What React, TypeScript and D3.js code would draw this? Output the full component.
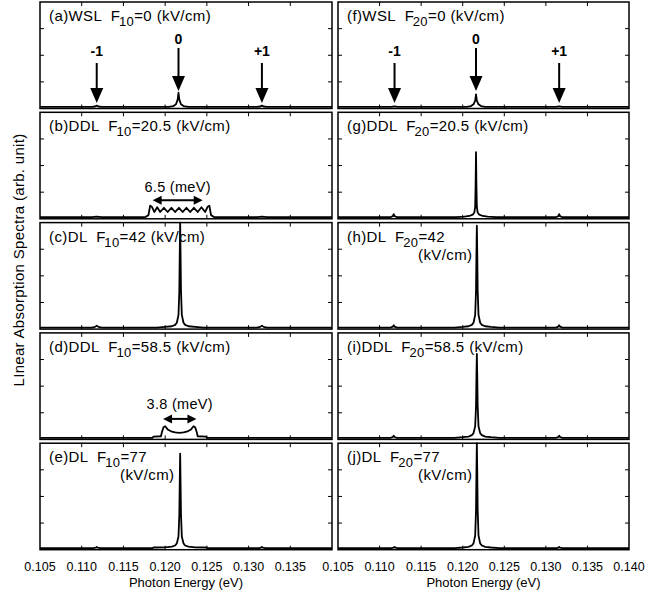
import React from 'react';
import * as d3 from 'd3';

// x axis (photon energy, eV) and y ticks (arb. unit, fraction of panel)
const xTicks = [0.105, 0.11, 0.115, 0.12, 0.125, 0.13, 0.135, 0.14];
const yTicks = [0.25, 0.5, 0.75];

// WSL ladder positions (eV) for the arrows in (a) and (f)
const wslLabels = ['-1', '0', '+1'];
const wslEnergy = [0.1118, 0.1216, 0.1316];

// spectra, [energy (eV), absorption (arb.)]
const specA: [number, number][] = [
  [0.105, 0], [0.1112, 0], [0.1116, 0.004], [0.1118, 0.012], [0.112, 0.004], [0.1124, 0],
  [0.1204, 0], [0.121, 0.008], [0.1213, 0.025], [0.1215, 0.07], [0.1216, 0.135], [0.1217, 0.07],
  [0.1219, 0.025], [0.1222, 0.008], [0.1228, 0],
  [0.131, 0], [0.1314, 0.004], [0.1316, 0.012], [0.1318, 0.004], [0.1322, 0], [0.14, 0],
];
const specB: [number, number][] = [
  [0.105, 0], [0.1112, 0], [0.1118, 0.006], [0.1124, 0], [0.1176, 0], [0.118, 0.02],
  [0.1182, 0.11], [0.1184, 0.1], [0.1187, 0.05], [0.11905, 0.095], [0.1194, 0.05],
  [0.11985, 0.09], [0.1203, 0.05], [0.12075, 0.09], [0.1212, 0.05], [0.12165, 0.09],
  [0.1221, 0.05], [0.12255, 0.09], [0.123, 0.05], [0.12345, 0.09], [0.1239, 0.05],
  [0.12435, 0.095], [0.1248, 0.05], [0.1251, 0.1], [0.1253, 0.11], [0.1255, 0.02],
  [0.1259, 0], [0.131, 0], [0.1316, 0.006], [0.1322, 0], [0.14, 0],
];
const specC: [number, number][] = [
  [0.105, 0], [0.1112, 0], [0.1116, 0.006], [0.1118, 0.018], [0.112, 0.006], [0.1124, 0],
  [0.119, 0], [0.12, 0.006], [0.1208, 0.012], [0.1212, 0.025], [0.1214, 0.045], [0.1216, 0.12],
  [0.1217, 0.35], [0.12175, 0.7], [0.1218, 1.0], [0.12185, 0.7], [0.1219, 0.35], [0.122, 0.12],
  [0.1222, 0.045], [0.1224, 0.025], [0.1228, 0.012], [0.1236, 0.006], [0.1246, 0],
  [0.131, 0], [0.1314, 0.006], [0.1316, 0.018], [0.1318, 0.006], [0.1322, 0], [0.14, 0],
];
const specD: [number, number][] = [
  [0.105, 0], [0.1185, 0], [0.1186, 0.012], [0.1195, 0.015], [0.1196, 0.05], [0.1198, 0.1],
  [0.12, 0.11], [0.1203, 0.08], [0.1207, 0.062], [0.1212, 0.052], [0.1217, 0.048],
  [0.1222, 0.052], [0.1227, 0.062], [0.1231, 0.08], [0.1234, 0.11], [0.1236, 0.1],
  [0.1238, 0.05], [0.1239, 0.015], [0.1249, 0.012], [0.125, 0], [0.14, 0],
];
const specE: [number, number][] = [
  [0.105, 0], [0.1114, 0], [0.1117, 0.004], [0.1118, 0.012], [0.1119, 0.004], [0.1122, 0],
  [0.1185, 0], [0.1186, 0.006], [0.12, 0.008], [0.1208, 0.014], [0.1212, 0.025], [0.1214, 0.045],
  [0.1216, 0.11], [0.1217, 0.32], [0.12175, 0.62], [0.1218, 0.9], [0.12185, 0.62], [0.1219, 0.32],
  [0.122, 0.11], [0.1222, 0.045], [0.1224, 0.025], [0.1228, 0.014], [0.1236, 0.008], [0.125, 0.006],
  [0.1251, 0], [0.1313, 0], [0.1315, 0.004], [0.1316, 0.012], [0.1317, 0.004], [0.132, 0], [0.14, 0],
];
const specF: [number, number][] = [
  [0.105, 0], [0.1114, 0], [0.1118, 0.006], [0.1122, 0],
  [0.1205, 0], [0.121, 0.008], [0.1213, 0.025], [0.1215, 0.06], [0.1216, 0.12], [0.1217, 0.06],
  [0.1219, 0.025], [0.1222, 0.008], [0.1227, 0],
  [0.1312, 0], [0.1316, 0.006], [0.132, 0], [0.14, 0],
];
const specG: [number, number][] = [
  [0.105, 0], [0.1113, 0], [0.1116, 0.01], [0.1117, 0.03], [0.1118, 0.01], [0.1121, 0],
  [0.1192, 0], [0.1202, 0.006], [0.1208, 0.012], [0.1212, 0.024], [0.1214, 0.045], [0.1215, 0.1],
  [0.12155, 0.3], [0.1216, 0.62], [0.12165, 0.3], [0.1217, 0.1], [0.1218, 0.045], [0.122, 0.024],
  [0.1224, 0.012], [0.123, 0.006], [0.124, 0],
  [0.1312, 0], [0.1315, 0.01], [0.1316, 0.03], [0.1317, 0.01], [0.132, 0], [0.14, 0],
];
const specH: [number, number][] = [
  [0.105, 0], [0.1113, 0], [0.1116, 0.008], [0.1117, 0.022], [0.1118, 0.008], [0.1121, 0],
  [0.119, 0], [0.12, 0.006], [0.1207, 0.012], [0.1211, 0.025], [0.1213, 0.045], [0.1215, 0.12],
  [0.1216, 0.35], [0.12165, 0.7], [0.1217, 0.97], [0.12175, 0.7], [0.1218, 0.35], [0.1219, 0.12],
  [0.1221, 0.045], [0.1223, 0.025], [0.1227, 0.012], [0.1234, 0.006], [0.1244, 0],
  [0.1312, 0], [0.1315, 0.008], [0.1316, 0.022], [0.1317, 0.008], [0.132, 0], [0.14, 0],
];
const specI: [number, number][] = [
  [0.105, 0], [0.1113, 0], [0.1116, 0.008], [0.1117, 0.02], [0.1118, 0.008], [0.1121, 0],
  [0.119, 0], [0.12, 0.006], [0.1207, 0.012], [0.1211, 0.025], [0.1213, 0.045], [0.1215, 0.11],
  [0.1216, 0.3], [0.12165, 0.58], [0.1217, 0.8], [0.12175, 0.58], [0.1218, 0.3], [0.1219, 0.11],
  [0.1221, 0.045], [0.1223, 0.025], [0.1227, 0.012], [0.1234, 0.006], [0.1244, 0],
  [0.1312, 0], [0.1315, 0.008], [0.1316, 0.02], [0.1317, 0.008], [0.132, 0], [0.14, 0],
];
const specJ: [number, number][] = [
  [0.105, 0], [0.1114, 0], [0.1117, 0.004], [0.1118, 0.012], [0.1119, 0.004], [0.1122, 0],
  [0.119, 0], [0.12, 0.006], [0.1207, 0.012], [0.1211, 0.025], [0.1213, 0.045], [0.1215, 0.12],
  [0.1216, 0.36], [0.12165, 0.72], [0.1217, 1.0], [0.12175, 0.72], [0.1218, 0.36], [0.1219, 0.12],
  [0.1221, 0.045], [0.1223, 0.025], [0.1227, 0.012], [0.1234, 0.006], [0.1244, 0],
  [0.1313, 0], [0.1315, 0.004], [0.1316, 0.012], [0.1317, 0.004], [0.132, 0], [0.14, 0],
];

// panel captions
const tags = ['(a)WSL  F', '(b)DDL  F', '(c)DL  F', '(d)DDL  F', '(e)DL  F',
  '(f)WSL  F', '(g)DDL  F', '(h)DL  F', '(i)DDL  F', '(j)DL  F'];
const fieldSub = ['10', '10', '10', '10', '10', '20', '20', '20', '20', '20'];
const fieldVal = ['=0 (kV/cm)', '=20.5 (kV/cm)', '=42 (kV/cm)', '=58.5 (kV/cm)', '=77',
  '=0 (kV/cm)', '=20.5 (kV/cm)', '=42', '=58.5 (kV/cm)', '=77'];
const secondLine = ['', '', '', '', '(kV/cm)', '', '', '(kV/cm)', '', '(kV/cm)'];
const spectra = [specA, specB, specC, specD, specE, specF, specG, specH, specI, specJ];

// bandwidth markers in (b) and (d): [from, to] eV
const bandB = [0.1185, 0.1245];
const bandD = [0.11975, 0.12375];

const FONT = '"Liberation Sans", Arial, Helvetica, sans-serif';
const W = 664;
const H = 597;
const cols = [{ x0: 40, x1: 332 }, { x0: 338, x1: 629 }];
const rowTop = 2;
const rowPitch = 110.3;
const rowH = 106.5;

function Panel({ idx }: { idx: number }) {
  const col = cols[Math.floor(idx / 5)];
  const row = idx % 5;
  const top = rowTop + row * rowPitch;
  const bottom = top + rowH;
  const x = d3.scaleLinear().domain([0.105, 0.14]).range([col.x0, col.x1]);
  const y = d3.scaleLinear().domain([-0.015, 1.0]).range([bottom, top]);
  const line = d3.line<[number, number]>()
    .x(d => x(d[0]))
    .y(d => y(d[1]))
    .curve(d3.curveLinear);
  const tl = 4;
  const isBottom = row === 4;
  const isLeft = idx < 5;

  const arrowV = (ex: number, y0: number, tip: number, label: string, ly: number, k: number) => {
    const cx = x(ex);
    return (
      <g key={k}>
        <line x1={cx} x2={cx} y1={y0} y2={tip - 12} stroke="#000" strokeWidth={2} />
        <path d={`M${cx - 6.5},${tip - 15} L${cx + 6.5},${tip - 15} L${cx},${tip} Z`} fill="#000" />
        <text x={cx} y={ly} textAnchor="middle" fontFamily={FONT} fontSize={14} fontWeight="bold">{label}</text>
      </g>
    );
  };

  const arrowH = (band: number[], ay: number, label: string, ly: number) => {
    const a = x(band[0]);
    const b = x(band[1]);
    return (
      <g>
        <line x1={a + 6} x2={b - 6} y1={ay} y2={ay} stroke="#000" strokeWidth={2} />
        <path d={`M${a},${ay} L${a + 9},${ay - 4.5} L${a + 9},${ay + 4.5} Z`} fill="#000" />
        <path d={`M${b},${ay} L${b - 9},${ay - 4.5} L${b - 9},${ay + 4.5} Z`} fill="#000" />
        <text x={(a + b) / 2} y={ly} textAnchor="middle" fontFamily={FONT} fontSize={14.5} letterSpacing={0.3}>{label}</text>
      </g>
    );
  };

  return (
    <g>
      <rect x={col.x0} y={top} width={col.x1 - col.x0} height={rowH} fill="none" stroke="#000" strokeWidth={1.5} />
      {xTicks.slice(1, -1).map((t, i) => (
        <g key={'xt' + i}>
          <line x1={x(t)} x2={x(t)} y1={top} y2={top + tl} stroke="#000" strokeWidth={1} />
          <line x1={x(t)} x2={x(t)} y1={bottom} y2={bottom - tl} stroke="#000" strokeWidth={1} />
        </g>
      ))}
      {yTicks.map((t, i) => (
        <g key={'yt' + i}>
          <line x1={col.x0} x2={col.x0 + tl} y1={top + rowH * (1 - t)} y2={top + rowH * (1 - t)} stroke="#000" strokeWidth={1} />
          <line x1={col.x1} x2={col.x1 - tl} y1={top + rowH * (1 - t)} y2={top + rowH * (1 - t)} stroke="#000" strokeWidth={1} />
        </g>
      ))}
      <path d={line(spectra[idx]) || ''} fill="none" stroke="#000" strokeWidth={1.8} strokeLinejoin="round" />
      <text x={col.x0 + 9} y={top + 19} fontFamily={FONT} fontSize={15} letterSpacing={0.4} style={{ whiteSpace: 'pre' }}>
        {tags[idx]}
        <tspan dx={-1.5} dy={5} fontSize={13}>{fieldSub[idx]}</tspan>
        <tspan dy={-5}>{fieldVal[idx]}</tspan>
      </text>
      {secondLine[idx] && (
        <text x={col.x0 + 80} y={top + 37} fontFamily={FONT} fontSize={15} letterSpacing={0.4}>{secondLine[idx]}</text>
      )}
      {row === 0 && wslEnergy.map((e, k) =>
        k === 1
          ? arrowV(e, top + 46, top + 89, wslLabels[k], top + 42, k)
          : arrowV(e, top + 61, top + 101, wslLabels[k], top + 54, k)
      )}
      {idx === 1 && arrowH(bandB, top + 88, '6.5 (meV)', top + 80)}
      {idx === 3 && arrowH(bandD, top + 86, '3.8 (meV)', top + 76)}
      {isBottom && xTicks.map((t, i) => (
        isLeft && i === xTicks.length - 1 ? null : (
          <text key={'xl' + i} x={x(t)} y={bottom + 21} textAnchor="middle" fontFamily={FONT} fontSize={12.5}>
            {t.toFixed(3)}
          </text>
        )
      ))}
      {isBottom && (
        <text x={(col.x0 + col.x1) / 2} y={587} textAnchor="middle" fontFamily={FONT} fontSize={13}>
          Photon Energy (eV)
        </text>
      )}
    </g>
  );
}

export default function App() {
  return (
    <svg width={W} height={H} style={{ position: 'absolute', left: 0, top: 0, background: '#fff' }}>
      <rect width={W} height={H} fill="#fff" />
      {spectra.map((_, i) => <Panel key={i} idx={i} />)}
      <text transform="translate(24,260) rotate(-90)" textAnchor="middle" fontFamily={FONT} fontSize={15} letterSpacing={0.3}>
        LInear Absorption Spectra (arb. unit)
      </text>
    </svg>
  );
}
